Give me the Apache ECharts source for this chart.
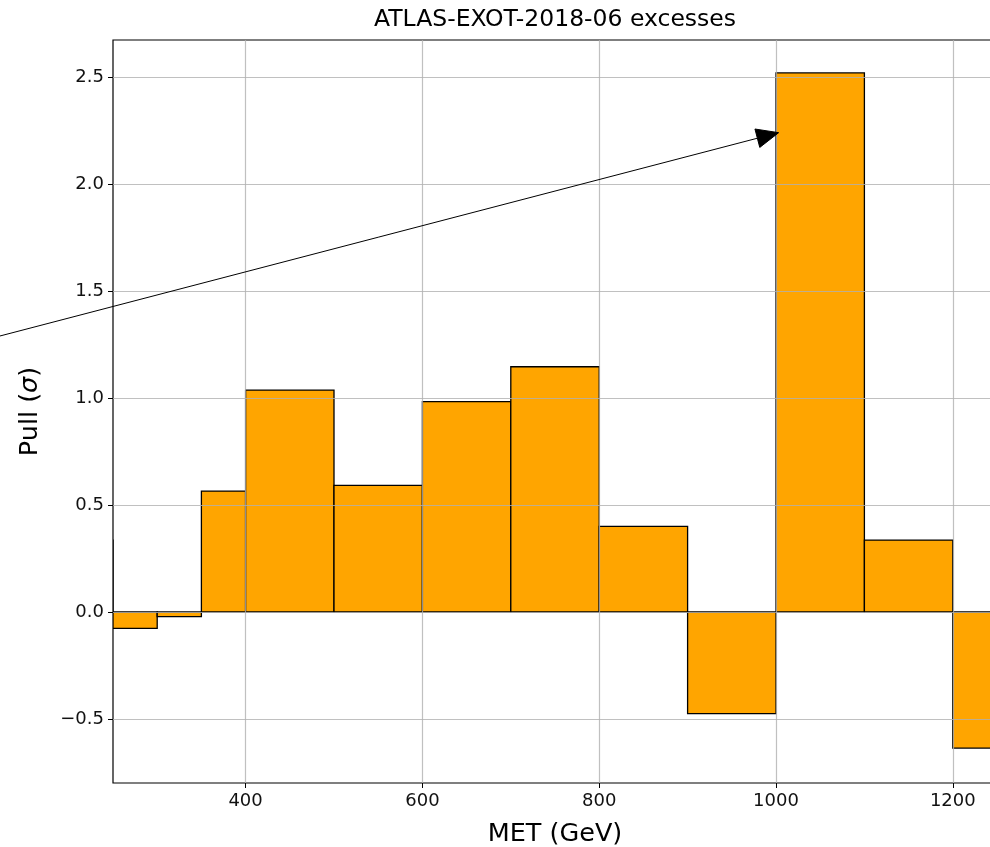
<!DOCTYPE html>
<html>
<head>
<meta charset="utf-8">
<script src="https://cdn.jsdelivr.net/npm/echarts@6/dist/echarts.min.js"></script>
<style>
  html, body { margin: 0; padding: 0; background: #fff; }
  #chart { width: 990px; height: 847px; }
</style>
</head>
<body>
<div id="chart"></div>
<script>
// Histogram bin edges (GeV) and pull per bin
const binLow  = [200, 250, 300, 350, 400, 500, 600, 700, 800, 900, 1000, 1100, 1200];
const binHigh = [250, 300, 350, 400, 500, 600, 700, 800, 900, 1000, 1100, 1200, 1300];
const pulls   = [0.336, -0.076, -0.022, 0.565, 1.037, 0.592, 0.983, 1.146, 0.40, -0.475, 2.519, 0.336, -0.636];

// Tick positions
const xTicks = [400, 600, 800, 1000, 1200];
const yTicks = [-0.5, 0.0, 0.5, 1.0, 1.5, 2.0, 2.5];

// Annotation arrow: tail and head in data coordinates
const arrowTail = [100, 1.266];
const arrowHead = [1003, 2.24];

const FONT = 'DejaVu Sans';

const barData = binLow.map((lo, i) => [lo, binHigh[i], pulls[i]]);

const chart = echarts.init(document.getElementById('chart'), null, { renderer: 'canvas' });

function fmtTick(v) {
  const s = Math.abs(v).toFixed(1);
  return v < 0 ? '\u2212' + s : s;
}

const option = {
  backgroundColor: '#ffffff',
  animation: false,
  title: {
    text: 'ATLAS-EXOT-2018-06 excesses',
    left: 550,
    top: 3,
    textAlign: 'center',
    textStyle: { fontFamily: FONT, fontSize: 23.5, fontWeight: 'normal', color: '#000' }
  },
  grid: {
    left: 113, top: 40, right: -7, bottom: 64,
    outerBoundsMode: 'none',
    containLabel: false,
    show: true, borderColor: '#000', borderWidth: 1.2, backgroundColor: 'transparent'
  },
  xAxis: {
    type: 'value',
    min: 250, max: 1250,
    z: 3,
    name: 'MET (GeV)',
    nameLocation: 'middle',
    nameGap: 38,
    nameTextStyle: { fontFamily: FONT, fontSize: 25.5, color: '#000' },
    axisLine: { show: false, onZero: false },
    axisTick: { show: true, customValues: xTicks, length: 5, lineStyle: { color: '#000', width: 1 } },
    axisLabel: {
      customValues: xTicks, margin: 9,
      fontFamily: FONT, fontSize: 18, color: '#111',
      formatter: v => String(v)
    },
    splitLine: { show: true, lineStyle: { color: '#b0b0b0', width: 1.2, opacity: 0.8 } }
  },
  yAxis: {
    type: 'value',
    min: -0.799, max: 2.673,
    z: 3,
    name: 'Pull ({i|σ})',
    nameLocation: 'middle',
    nameRotate: 90,
    nameGap: 70,
    nameTextStyle: {
      fontFamily: FONT, fontSize: 25.5, color: '#000',
      rich: { i: { fontFamily: FONT, fontSize: 25.5, fontStyle: 'italic', color: '#000' } }
    },
    axisLine: { show: false, onZero: false },
    axisTick: { show: true, customValues: yTicks, length: 5, lineStyle: { color: '#000', width: 1 } },
    axisLabel: {
      customValues: yTicks, margin: 9,
      fontFamily: FONT, fontSize: 18, color: '#111',
      formatter: v => fmtTick(v)
    },
    splitLine: { show: true, lineStyle: { color: '#b0b0b0', width: 1.2, opacity: 0.8 } }
  },
  series: [
    {
      // histogram bars spanning each bin
      type: 'custom',
      z: 2,
      clip: true,
      data: barData,
      renderItem: function (params, api) {
        const p0 = api.coord([api.value(0), 0]);
        const p1 = api.coord([api.value(1), api.value(2)]);
        const x = Math.min(p0[0], p1[0]);
        const y = Math.min(p0[1], p1[1]);
        const w = Math.abs(p1[0] - p0[0]);
        const h = Math.abs(p1[1] - p0[1]);
        return {
          type: 'rect',
          shape: { x: x, y: y, width: w, height: h },
          style: { fill: '#FFA500', stroke: '#000', lineWidth: 1.3 }
        };
      }
    },
    {
      // annotation arrow
      type: 'custom',
      z: 10,
      clip: false,
      silent: true,
      data: [[arrowTail[0], arrowTail[1], arrowHead[0], arrowHead[1]]],
      renderItem: function (params, api) {
        const a = api.coord([api.value(0), api.value(1)]);
        const b = api.coord([api.value(2), api.value(3)]);
        const dx = b[0] - a[0], dy = b[1] - a[1];
        const len = Math.sqrt(dx * dx + dy * dy);
        const ux = dx / len, uy = dy / len;
        const headLen = 22, headHalf = 9.5;
        const bx = b[0] - ux * headLen, by = b[1] - uy * headLen;
        const nx = -uy, ny = ux;
        return {
          type: 'group',
          children: [
            {
              type: 'line',
              shape: { x1: a[0], y1: a[1], x2: bx, y2: by },
              style: { stroke: '#000', lineWidth: 1 }
            },
            {
              type: 'polygon',
              shape: { points: [
                [b[0], b[1]],
                [bx + nx * headHalf, by + ny * headHalf],
                [bx - nx * headHalf, by - ny * headHalf]
              ] },
              style: { fill: '#000', stroke: '#000', lineWidth: 1 }
            }
          ]
        };
      }
    }
  ]
};

chart.setOption(option);
</script>
</body>
</html>
